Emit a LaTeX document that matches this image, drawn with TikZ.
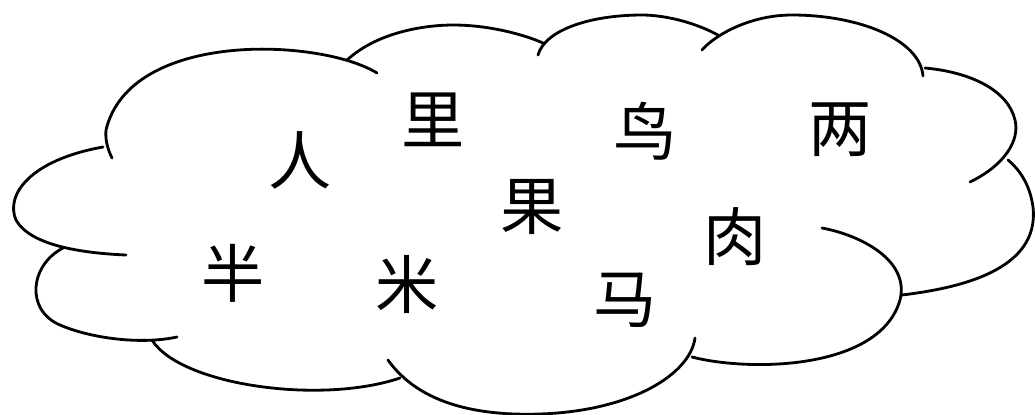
\documentclass[tikz,border=0pt]{standalone}
\usepackage{fontspec}
\newfontfamily\cjk{Noto Sans CJK SC}
\usepackage{tikz}
\tikzstyle{hanzi} = [font=\cjk\fontsize{36}{36}\selectfont, inner sep=0pt]
\tikzstyle{lobe} = [line width=1.6pt, line cap=round]
\begin{document}
\begin{tikzpicture}[x=0.02cm, y=-0.02cm]
\useasboundingbox (0,0) rectangle (1035,414);
% cloud outline, one arc per lobe
\draw[lobe] (377,73) .. controls (320,38) and (130,30) .. (106,130) .. controls (105,140) and (108,150) .. (112,158);
\draw[lobe] (103,147) .. controls (30,160) and (5,195) .. (16,220) .. controls (30,245) and (80,253) .. (126,255);
\draw[lobe] (63,248) .. controls (30,265) and (25,310) .. (60,325) .. controls (90,338) and (140,345) .. (177,337);
\draw[lobe] (152,340) .. controls (180,385) and (320,405) .. (400,378);
\draw[lobe] (388,360) .. controls (420,405) and (480,416) .. (540,414) .. controls (630,411) and (690,375) .. (695,338);
\draw[lobe] (692,357) .. controls (750,372) and (880,370) .. (900,300) .. controls (910,260) and (860,235) .. (822,228);
\draw[lobe] (902,295) .. controls (960,288) and (1040,270) .. (1033,207) .. controls (1030,185) and (1020,170) .. (1008,160);
\draw[lobe] (970,182) .. controls (1005,165) and (1020,140) .. (1015,120) .. controls (1008,90) and (970,72) .. (925,68);
\draw[lobe] (923,76) .. controls (920,40) and (860,15) .. (792,15) .. controls (750,15) and (715,35) .. (702,50);
\draw[lobe] (718,35) .. controls (690,20) and (660,15) .. (642,15) .. controls (590,15) and (545,30) .. (538,55);
\draw[lobe] (347,60) .. controls (380,30) and (430,25) .. (453,25) .. controls (490,25) and (525,35) .. (543,43);
% characters
\node (ren) [hanzi] at (300,160) {人};
\node (li) [hanzi] at (433,120) {里};
\node (niao) [hanzi] at (645,131) {鸟};
\node (liang) [hanzi] at (840,130) {两};
\node (guo) [hanzi] at (532,207) {果};
\node (rou) [hanzi] at (735,237) {肉};
\node (ban) [hanzi] at (233,273) {半};
\node (mi) [hanzi] at (407,284) {米};
\node (ma) [hanzi] at (625,300) {马};
\end{tikzpicture}
\end{document}
